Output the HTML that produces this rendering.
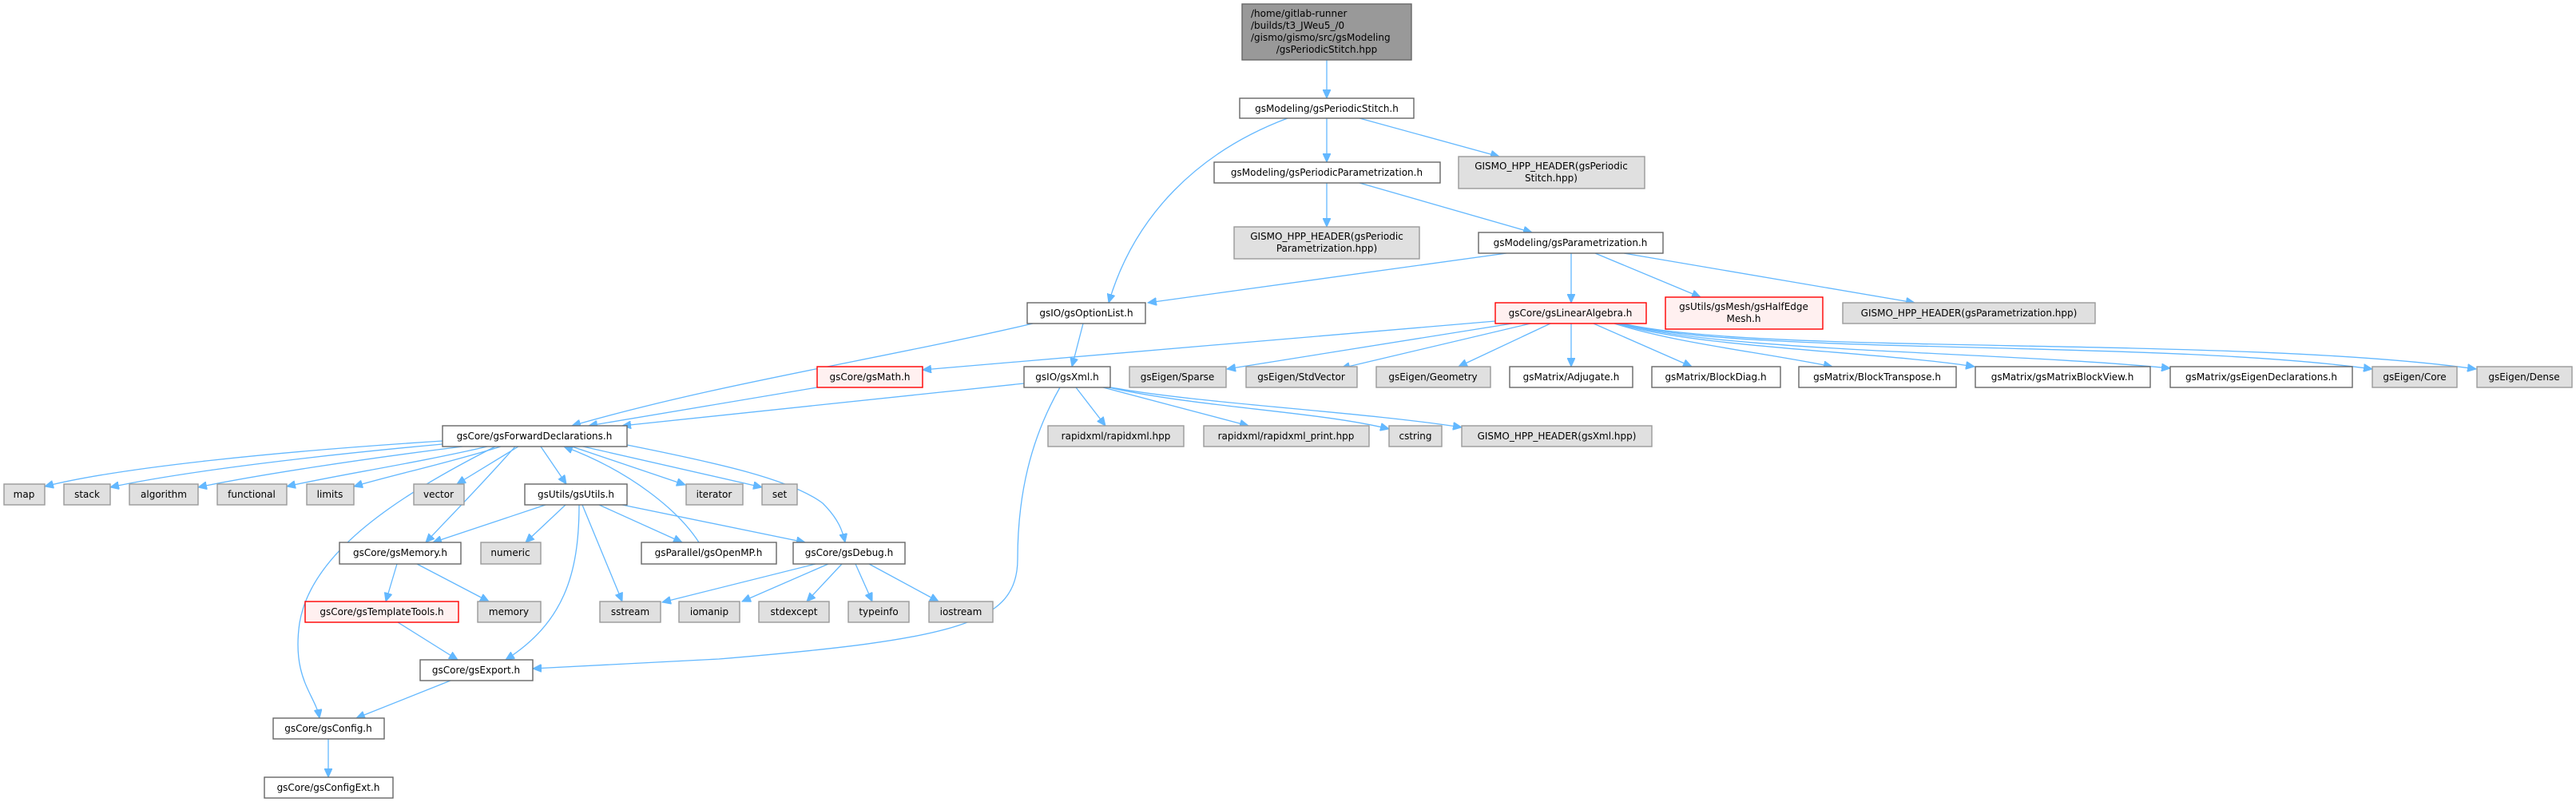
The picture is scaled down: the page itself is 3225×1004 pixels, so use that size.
<!DOCTYPE html>
<html><head><meta charset="utf-8"><style>
html,body{margin:0;padding:0;background:#fff;width:3225px;height:1004px;overflow:hidden}
svg{display:block}
text{font-family:"DejaVu Sans","Liberation Sans",sans-serif;font-size:12px;fill:#000}
.w{fill:#fff;stroke:#666;stroke-width:1.4}
.g{fill:#e0e0e0;stroke:#999;stroke-width:1.4}
.r{fill:#fff0f0;stroke:#f00;stroke-width:1.4}
.k{fill:#999;stroke:#666;stroke-width:1.4}
.e{fill:none;stroke:#63b8ff;stroke-width:1.3;marker-end:url(#a)}
</style></head><body>
<svg width="3225" height="1004" viewBox="0 0 3225 1004" xmlns="http://www.w3.org/2000/svg">
<defs><marker id="a" markerUnits="userSpaceOnUse" markerWidth="12" markerHeight="10" refX="11" refY="5" orient="auto"><path d="M0,0 L11,5 L0,10 z" fill="#63b8ff" stroke="#63b8ff"/></marker></defs>

<!-- edges -->
<path class="e" d="M1661,75 L1661,123"/>
<path class="e" d="M1612,148 C1500,190 1420,270 1388,379"/>
<path class="e" d="M1661,148 L1661,203"/>
<path class="e" d="M1702,148 L1877,196"/>
<path class="e" d="M1661,229 L1661,284"/>
<path class="e" d="M1702,229 L1918,291"/>
<path class="e" d="M1886,317 L1437,379"/>
<path class="e" d="M1967,317 L1967,379"/>
<path class="e" d="M1997,317 L2129,372"/>
<path class="e" d="M2033,317 L2397,379"/>
<path class="e" d="M1293,405 C1100,450 900,480 716,533"/>
<path class="e" d="M1356,405 L1342,459"/>
<path class="e" d="M1023,485 L737,533"/>
<path class="e" d="M1872,402 L1155,463"/>
<path class="e" d="M1893,405 L1536,462"/>
<path class="e" d="M1916,405 L1679,461"/>
<path class="e" d="M1941,405 L1826,459"/>
<path class="e" d="M1967,405 L1967,459"/>
<path class="e" d="M1995,405 L2118,459"/>
<path class="e" d="M2021,405 C2100,430 2200,440 2294,459"/>
<path class="e" d="M2025,405 C2120,435 2350,440 2472,459"/>
<path class="e" d="M2028,405 C2150,440 2500,440 2717,461"/>
<path class="e" d="M2030,405 C2180,445 2700,425 2970,462"/>
<path class="e" d="M2032,405 C2200,445 2800,420 3100,462"/>
<path class="e" d="M1282,480 L779,533"/>
<path class="e" d="M1347,485 L1384,533"/>
<path class="e" d="M1381,485 L1563,533"/>
<path class="e" d="M1388,485 C1500,510 1650,515 1739,537"/>
<path class="e" d="M1391,485 C1500,505 1700,515 1830,535"/>
<path class="e" d="M1327,485 C1290,550 1274,620 1274,700 C1274,780 1200,800 900,825 L667,837"/>
<path class="e" d="M554,552 C350,565 150,585 56,609"/>
<path class="e" d="M554,556 C400,570 230,590 138,610"/>
<path class="e" d="M579,559 C450,575 320,595 248,610"/>
<path class="e" d="M610,559 C520,580 420,595 359,609"/>
<path class="e" d="M627,559 C560,580 490,595 443,609"/>
<path class="e" d="M649,559 L572,606"/>
<path class="e" d="M677,559 L709,606"/>
<path class="e" d="M716,559 L858,607"/>
<path class="e" d="M730,559 L954,610"/>
<path class="e" d="M645,559 C600,610 565,645 533,679"/>
<path class="e" d="M620,559 C500,620 390,690 375,780 C365,850 395,870 400,899"/>
<path class="e" d="M875,679 C850,640 790,590 706,559"/>
<path class="e" d="M785,557 C900,580 990,600 1030,630 C1050,650 1055,665 1058,679"/>
<path class="e" d="M683,632 L542,679"/>
<path class="e" d="M708,632 L658,679"/>
<path class="e" d="M725,632 C725,720 705,780 633,826"/>
<path class="e" d="M729,632 L779,753"/>
<path class="e" d="M750,632 L854,679"/>
<path class="e" d="M779,632 L1008,679"/>
<path class="e" d="M497,706 L483,753"/>
<path class="e" d="M522,706 L612,753"/>
<path class="e" d="M498,779 L573,826"/>
<path class="e" d="M564,852 L446,899"/>
<path class="e" d="M411,925 L411,973"/>
<path class="e" d="M1021,706 L829,754"/>
<path class="e" d="M1037,706 L929,753"/>
<path class="e" d="M1054,706 L1010,753"/>
<path class="e" d="M1071,706 L1092,753"/>
<path class="e" d="M1088,706 L1175,753"/>

<!-- nodes -->
<rect class="k" x="1555" y="5" width="212" height="70"/>
<text x="1566" y="21">/home/gitlab-runner</text>
<text x="1566" y="36">/builds/t3_JWeu5_/0</text>
<text x="1566" y="51">/gismo/gismo/src/gsModeling</text>
<text x="1661" y="66" text-anchor="middle">/gsPeriodicStitch.hpp</text>

<g text-anchor="middle">
<rect class="w" x="1552" y="123" width="218" height="25"/><text x="1661" y="140">gsModeling/gsPeriodicStitch.h</text>
<rect class="w" x="1520" y="203" width="283" height="26"/><text x="1661" y="220">gsModeling/gsPeriodicParametrization.h</text>
<rect class="g" x="1826" y="196" width="233" height="40"/><text x="1942" y="212">GISMO_HPP_HEADER(gsPeriodic</text><text x="1942" y="227">Stitch.hpp)</text>
<rect class="g" x="1545" y="284" width="232" height="40"/><text x="1661" y="300">GISMO_HPP_HEADER(gsPeriodic</text><text x="1661" y="315">Parametrization.hpp)</text>
<rect class="w" x="1851" y="291" width="231" height="26"/><text x="1966" y="308">gsModeling/gsParametrization.h</text>
<rect class="w" x="1286" y="379" width="148" height="26"/><text x="1360" y="396">gsIO/gsOptionList.h</text>
<rect class="r" x="1872" y="379" width="189" height="26"/><text x="1966" y="396">gsCore/gsLinearAlgebra.h</text>
<rect class="r" x="2085" y="372" width="197" height="40"/><text x="2183" y="388">gsUtils/gsMesh/gsHalfEdge</text><text x="2183" y="403">Mesh.h</text>
<rect class="g" x="2307" y="379" width="316" height="26"/><text x="2465" y="396">GISMO_HPP_HEADER(gsParametrization.hpp)</text>

<rect class="r" x="1023" y="459" width="132" height="26"/><text x="1089" y="476">gsCore/gsMath.h</text>
<rect class="w" x="1282" y="459" width="108" height="26"/><text x="1336" y="476">gsIO/gsXml.h</text>
<rect class="g" x="1414" y="459" width="121" height="26"/><text x="1474" y="476">gsEigen/Sparse</text>
<rect class="g" x="1560" y="459" width="139" height="26"/><text x="1629" y="476">gsEigen/StdVector</text>
<rect class="g" x="1723" y="459" width="143" height="26"/><text x="1794" y="476">gsEigen/Geometry</text>
<rect class="w" x="1890" y="459" width="154" height="26"/><text x="1967" y="476">gsMatrix/Adjugate.h</text>
<rect class="w" x="2068" y="459" width="161" height="26"/><text x="2148" y="476">gsMatrix/BlockDiag.h</text>
<rect class="w" x="2252" y="459" width="197" height="26"/><text x="2350" y="476">gsMatrix/BlockTranspose.h</text>
<rect class="w" x="2473" y="459" width="219" height="26"/><text x="2582" y="476">gsMatrix/gsMatrixBlockView.h</text>
<rect class="w" x="2717" y="459" width="228" height="26"/><text x="2831" y="476">gsMatrix/gsEigenDeclarations.h</text>
<rect class="g" x="2970" y="459" width="106" height="26"/><text x="3023" y="476">gsEigen/Core</text>
<rect class="g" x="3101" y="459" width="119" height="26"/><text x="3160" y="476">gsEigen/Dense</text>

<rect class="w" x="554" y="533" width="231" height="26"/><text x="669" y="550">gsCore/gsForwardDeclarations.h</text>
<rect class="g" x="1312" y="533" width="170" height="26"/><text x="1397" y="550">rapidxml/rapidxml.hpp</text>
<rect class="g" x="1507" y="533" width="207" height="26"/><text x="1610" y="550">rapidxml/rapidxml_print.hpp</text>
<rect class="g" x="1739" y="533" width="66" height="26"/><text x="1772" y="550">cstring</text>
<rect class="g" x="1830" y="533" width="238" height="26"/><text x="1949" y="550">GISMO_HPP_HEADER(gsXml.hpp)</text>

<rect class="g" x="5" y="606" width="51" height="26"/><text x="30" y="623">map</text>
<rect class="g" x="80" y="606" width="58" height="26"/><text x="109" y="623">stack</text>
<rect class="g" x="162" y="606" width="86" height="26"/><text x="205" y="623">algorithm</text>
<rect class="g" x="272" y="606" width="87" height="26"/><text x="315" y="623">functional</text>
<rect class="g" x="384" y="606" width="59" height="26"/><text x="413" y="623">limits</text>
<rect class="g" x="518" y="606" width="63" height="26"/><text x="549" y="623">vector</text>
<rect class="w" x="657" y="606" width="128" height="26"/><text x="721" y="623">gsUtils/gsUtils.h</text>
<rect class="g" x="859" y="606" width="71" height="26"/><text x="894" y="623">iterator</text>
<rect class="g" x="954" y="606" width="44" height="26"/><text x="976" y="623">set</text>

<rect class="w" x="425" y="679" width="152" height="27"/><text x="501" y="696">gsCore/gsMemory.h</text>
<rect class="g" x="602" y="679" width="75" height="27"/><text x="639" y="696">numeric</text>
<rect class="w" x="803" y="679" width="169" height="27"/><text x="887" y="696">gsParallel/gsOpenMP.h</text>
<rect class="w" x="993" y="679" width="140" height="27"/><text x="1063" y="696">gsCore/gsDebug.h</text>

<rect class="r" x="382" y="753" width="192" height="26"/><text x="478" y="770">gsCore/gsTemplateTools.h</text>
<rect class="g" x="598" y="753" width="79" height="26"/><text x="637" y="770">memory</text>
<rect class="g" x="751" y="753" width="76" height="26"/><text x="789" y="770">sstream</text>
<rect class="g" x="850" y="753" width="76" height="26"/><text x="888" y="770">iomanip</text>
<rect class="g" x="950" y="753" width="88" height="26"/><text x="994" y="770">stdexcept</text>
<rect class="g" x="1062" y="753" width="76" height="26"/><text x="1100" y="770">typeinfo</text>
<rect class="g" x="1163" y="753" width="80" height="26"/><text x="1203" y="770">iostream</text>

<rect class="w" x="526" y="826" width="141" height="26"/><text x="596" y="843">gsCore/gsExport.h</text>
<rect class="w" x="342" y="899" width="139" height="26"/><text x="411" y="916">gsCore/gsConfig.h</text>
<rect class="w" x="331" y="973" width="161" height="26"/><text x="411" y="990">gsCore/gsConfigExt.h</text>
</g>
</svg>
</body></html>
